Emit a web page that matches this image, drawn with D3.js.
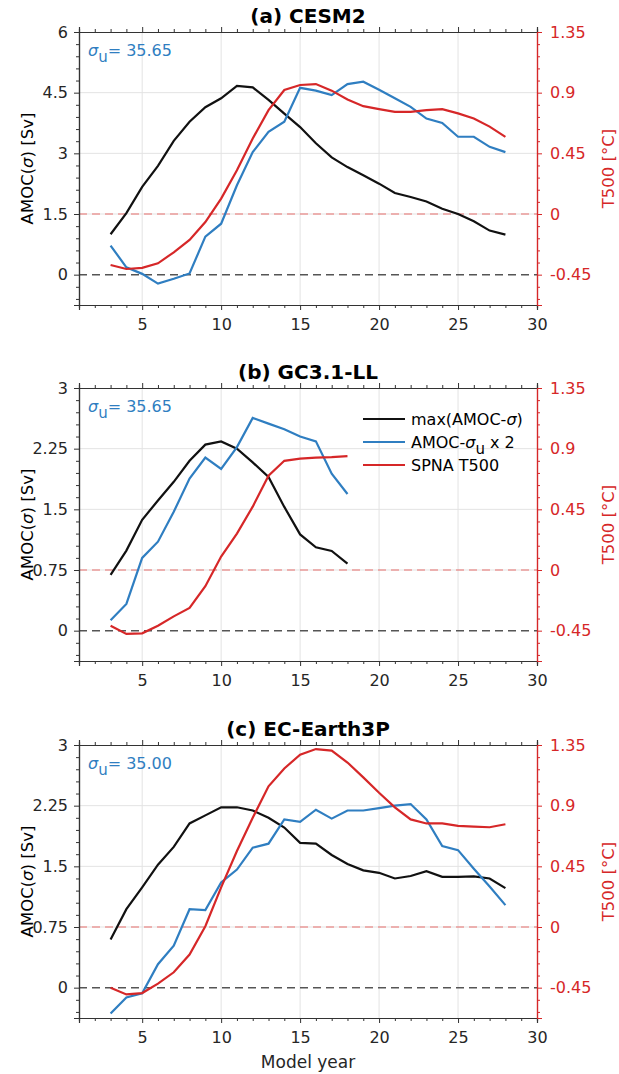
<!DOCTYPE html>
<html>
<head>
<meta charset="utf-8">
<script src="https://cdn.jsdelivr.net/npm/d3@7"></script>
<style>
  body { margin: 0; background: #fff; }
  svg { font-family: "DejaVu Sans", sans-serif; }
</style>
</head>
<body>
<div id="chart"></div>
<script>
// Model years on x axis
let yearsLong = [3, 4, 5, 6, 7, 8, 9, 10, 11, 12, 13, 14, 15, 16, 17, 18, 19, 20, 21, 22, 23, 24, 25, 26, 27, 28];
let yearsShort = [3, 4, 5, 6, 7, 8, 9, 10, 11, 12, 13, 14, 15, 16, 17, 18];

// (a) CESM2
let cesmMax = [1.0, 1.52, 2.17, 2.69, 3.31, 3.78, 4.14, 4.36, 4.67, 4.63, 4.32, 3.98, 3.65, 3.25, 2.9, 2.66, 2.46, 2.25, 2.02, 1.92, 1.81, 1.63, 1.5, 1.32, 1.09, 0.99];
let cesmSigU = [0.72, 0.18, 0.02, -0.22, -0.1, 0.03, 0.94, 1.26, 2.21, 3.03, 3.53, 3.78, 4.62, 4.55, 4.44, 4.71, 4.77, 4.57, 4.36, 4.15, 3.86, 3.75, 3.41, 3.41, 3.16, 3.03];
let cesmT500 = [-0.378, -0.408, -0.4, -0.366, -0.284, -0.192, -0.06, 0.114, 0.324, 0.56, 0.77, 0.92, 0.957, 0.964, 0.915, 0.85, 0.8, 0.778, 0.758, 0.758, 0.77, 0.778, 0.746, 0.709, 0.648, 0.572];

// (b) GC3.1-LL
let gcMax = [0.69, 0.99, 1.37, 1.61, 1.84, 2.1, 2.3, 2.34, 2.25, 2.08, 1.9, 1.53, 1.19, 1.03, 0.985, 0.83];
let gcSigU = [0.13, 0.33, 0.9, 1.1, 1.47, 1.88, 2.14, 2.0, 2.27, 2.63, 2.56, 2.49, 2.4, 2.34, 1.94, 1.69];
let gcT500 = [-0.414, -0.474, -0.47, -0.414, -0.344, -0.282, -0.12, 0.1, 0.27, 0.47, 0.7, 0.81, 0.826, 0.834, 0.837, 0.845];

// (c) EC-Earth3P
let ecMax = [0.595, 0.97, 1.24, 1.52, 1.74, 2.03, 2.13, 2.23, 2.23, 2.19, 2.1, 1.98, 1.79, 1.78, 1.64, 1.53, 1.45, 1.42, 1.35, 1.38, 1.44, 1.37, 1.37, 1.375, 1.35, 1.23];
let ecSigU = [-0.32, -0.12, -0.07, 0.29, 0.52, 0.97, 0.96, 1.3, 1.46, 1.73, 1.78, 2.08, 2.05, 2.2, 2.09, 2.19, 2.19, 2.22, 2.25, 2.27, 2.08, 1.75, 1.7, 1.47, 1.25, 1.02];
let ecT500 = [-0.45, -0.5, -0.49, -0.42, -0.336, -0.204, 0.006, 0.294, 0.564, 0.81, 1.044, 1.176, 1.278, 1.32, 1.308, 1.22, 1.11, 0.996, 0.888, 0.798, 0.768, 0.768, 0.75, 0.744, 0.74, 0.762];

// Tick labels
let xTicks = [5, 10, 15, 20, 25, 30];
let leftTicksA = [0, 1.5, 3, 4.5, 6];
let leftTicksBC = [0, 0.75, 1.5, 2.25, 3];
let rightTicks = [-0.45, 0, 0.45, 0.9, 1.35];

let panels = [
    {title: "(a) CESM2", sigma: "35.65", years: yearsLong, max: cesmMax, sigU: cesmSigU, t500: cesmT500,
     left: [-0.75, 6], leftTicks: leftTicksA, leftMinor: 0.3, top: 32, legend: false},
    {title: "(b) GC3.1-LL", sigma: "35.65", years: yearsShort, max: gcMax, sigU: gcSigU, t500: gcT500,
     left: [-0.375, 3], leftTicks: leftTicksBC, leftMinor: 0.15, top: 388, legend: true},
    {title: "(c) EC-Earth3P", sigma: "35.00", years: yearsLong, max: ecMax, sigU: ecSigU, t500: ecT500,
     left: [-0.375, 3], leftTicks: leftTicksBC, leftMinor: 0.15, top: 745, legend: false}
];

let colBlack = "#111111", colBlue = "#2f7ec1", colRed = "#d62728", spine = "#333333";
let font = "DejaVu Sans, sans-serif";

let svg = d3.select("#chart").append("svg")
    .attr("width", 619)
    .attr("height", 1074);

let margin = {left: 79, right: 537};
let height = 273;

function minorRange(lo, hi, step) {
    let out = [];
    let start = Math.ceil(lo / step - 1e-6);
    for (let i = start; i * step <= hi + 1e-6; i++) out.push(+(i * step).toFixed(4));
    return out;
}

panels.forEach((p, idx) => {
    let g = svg.append("g").attr("transform", "translate(0," + p.top + ")");

    let x = d3.scaleLinear().domain([1, 30]).range([margin.left, margin.right]);
    let y = d3.scaleLinear().domain(p.left).range([height, 0]);
    let y2 = d3.scaleLinear().domain([-0.675, 1.35]).range([height, 0]);

    // Grid
    g.append("g").selectAll("line")
        .data(xTicks.filter(d => d < 30))
        .join("line")
        .attr("x1", d => x(d)).attr("x2", d => x(d))
        .attr("y1", 0).attr("y2", height)
        .attr("stroke", "#e3e3e3").attr("stroke-width", 1);
    g.append("g").selectAll("line")
        .data(p.leftTicks.filter(d => d !== 0 && d !== p.left[1]))
        .join("line")
        .attr("x1", margin.left).attr("x2", margin.right)
        .attr("y1", d => y(d)).attr("y2", d => y(d))
        .attr("stroke", "#e3e3e3").attr("stroke-width", 1);

    // Reference lines: zero AMOC and zero T500
    g.append("line")
        .attr("x1", margin.left).attr("x2", margin.right)
        .attr("y1", y(0)).attr("y2", y(0))
        .attr("stroke", "#555").attr("stroke-width", 1.5)
        .attr("stroke-dasharray", "8,5");
    g.append("line")
        .attr("x1", margin.left).attr("x2", margin.right)
        .attr("y1", y2(0)).attr("y2", y2(0))
        .attr("stroke", "#e8706f").attr("stroke-width", 1.2)
        .attr("stroke-dasharray", "8,5");

    // Lines
    let lineL = d3.line().x((d, i) => x(p.years[i])).y(d => y(d));
    let lineR = d3.line().x((d, i) => x(p.years[i])).y(d => y2(d));
    g.append("path").datum(p.max).attr("d", lineL)
        .attr("fill", "none").attr("stroke", colBlack).attr("stroke-width", 2.2);
    g.append("path").datum(p.sigU).attr("d", lineL)
        .attr("fill", "none").attr("stroke", colBlue).attr("stroke-width", 2.2);
    g.append("path").datum(p.t500).attr("d", lineR)
        .attr("fill", "none").attr("stroke", colRed).attr("stroke-width", 2.2);

    // Axes
    let xMinor = minorRange(1, 30, 1).filter(d => xTicks.indexOf(d) < 0);
    let bottom = g.append("g").attr("transform", "translate(0," + height + ")");
    bottom.call(d3.axisBottom(x).tickValues(xMinor).tickSize(3).tickFormat(""));
    bottom.append("g").call(d3.axisBottom(x).tickValues(xTicks).tickSize(5).tickPadding(9).tickFormat(d3.format("d")));
    let topAx = g.append("g");
    topAx.call(d3.axisTop(x).tickValues(xMinor).tickSize(3).tickFormat(""));
    topAx.append("g").call(d3.axisTop(x).tickValues(xTicks).tickSize(5).tickFormat(""));

    let leftMinor = minorRange(p.left[0], p.left[1], p.leftMinor).filter(d => p.leftTicks.every(t => Math.abs(t - d) > 1e-6));
    let leftAx = g.append("g").attr("transform", "translate(" + margin.left + ",0)");
    leftAx.call(d3.axisLeft(y).tickValues(leftMinor).tickSize(3).tickFormat(""));
    leftAx.append("g").call(d3.axisLeft(y).tickValues(p.leftTicks).tickSize(5).tickPadding(6).tickFormat(d => String(d)));

    let rightMinor = minorRange(-0.675, 1.35, 0.09).filter(d => rightTicks.every(t => Math.abs(t - d) > 1e-6));
    let rightAx = g.append("g").attr("transform", "translate(" + margin.right + ",0)");
    rightAx.call(d3.axisRight(y2).tickValues(rightMinor).tickSize(3).tickFormat(""));
    rightAx.append("g").call(d3.axisRight(y2).tickValues(rightTicks).tickSize(5).tickPadding(8).tickFormat(d => String(d)));

    [bottom, topAx, leftAx, rightAx].forEach(a => {
        a.attr("font-family", font).selectAll("g").attr("font-family", font);
        a.selectAll("text").attr("font-size", 16).attr("font-family", font);
    });
    [bottom, topAx, leftAx].forEach(a => {
        a.selectAll("path.domain").attr("stroke", spine).attr("stroke-width", 1.2);
        a.selectAll("line").attr("stroke", spine);
        a.selectAll("text").attr("fill", "#262626");
    });
    rightAx.selectAll("path.domain").attr("stroke", colRed).attr("stroke-width", 1.2);
    rightAx.selectAll("line").attr("stroke", colRed);
    rightAx.selectAll("text").attr("fill", colRed);

    // Title
    g.append("text")
        .attr("x", 308).attr("y", -9)
        .attr("text-anchor", "middle")
        .attr("font-size", 20).attr("font-weight", "bold")
        .attr("fill", "#000")
        .text(p.title);

    // Axis labels
    g.append("text")
        .attr("transform", "translate(33," + (height / 2) + ") rotate(-90)")
        .attr("text-anchor", "middle")
        .attr("font-size", 16.5).attr("fill", "#000")
        .html('AMOC(<tspan font-style="italic">σ</tspan>) [Sv]');
    g.append("text")
        .attr("transform", "translate(614," + (height / 2) + ") rotate(-90)")
        .attr("text-anchor", "middle")
        .attr("font-size", 16.5).attr("fill", colRed)
        .text("T500 [°C]");

    // sigma_u annotation
    let ann = g.append("text")
        .attr("x", 88).attr("y", 24)
        .attr("font-size", 16).attr("fill", colBlue);
    ann.append("tspan").attr("font-style", "italic").text("σ");
    ann.append("tspan").attr("dy", 6).attr("font-size", 15).text("u");
    ann.append("tspan").attr("dy", -6).text("= " + p.sigma);

    // Legend
    if (p.legend) {
        let items = [
            {name: "max", color: colBlack},
            {name: "sigu", color: colBlue},
            {name: "t500", color: colRed}
        ];
        let lg = g.append("g").attr("transform", "translate(363,31)");
        items.forEach((it, i) => {
            let row = lg.append("g").attr("transform", "translate(0," + (i * 23) + ")");
            row.append("line").attr("x1", 0).attr("x2", 42).attr("y1", 0).attr("y2", 0)
                .attr("stroke", it.color).attr("stroke-width", 2.2);
            let t = row.append("text").attr("x", 48).attr("y", 5.5)
                .attr("font-size", 16).attr("fill", "#000");
            if (it.name === "max") {
                t.append("tspan").text("max(AMOC-");
                t.append("tspan").attr("font-style", "italic").text("σ");
                t.append("tspan").text(")");
            } else if (it.name === "sigu") {
                t.append("tspan").text("AMOC-");
                t.append("tspan").attr("font-style", "italic").text("σ");
                t.append("tspan").attr("dy", 6).attr("font-size", 15).text("u");
                t.append("tspan").attr("dy", -6).text(" x 2");
            } else {
                t.append("tspan").text("SPNA T500");
            }
        });
    }

    if (idx === 2) {
        g.append("text")
            .attr("x", 308).attr("y", height + 50)
            .attr("text-anchor", "middle")
            .attr("font-size", 17).attr("fill", "#262626")
            .text("Model year");
    }
});
</script>
</body>
</html>
